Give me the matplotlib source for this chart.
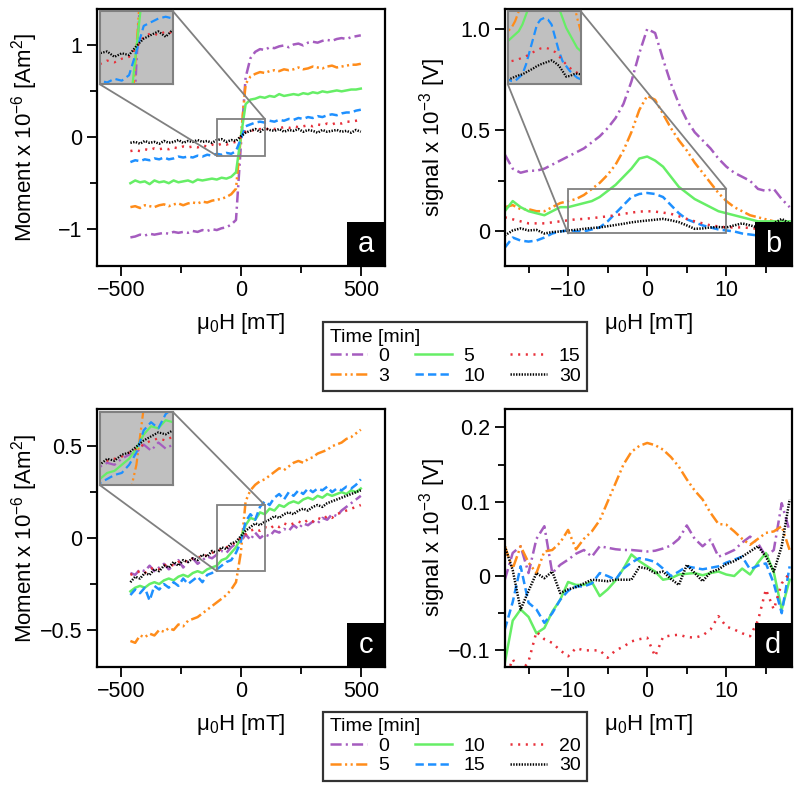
import matplotlib.pyplot as plt
from matplotlib.patches import Rectangle, ConnectionPatch
from matplotlib.lines import Line2D

plt.rcParams['font.family'] = ['Liberation Sans', 'DejaVu Sans']
plt.rcParams['mathtext.fontset'] = 'custom'
plt.rcParams['mathtext.rm'] = 'Liberation Sans'
plt.rcParams['mathtext.it'] = 'Liberation Sans:italic'
plt.rcParams['lines.scale_dashes'] = False

# Dados

# campo (mT) para os paineis a e c
field_ac = [-460, -440, -420, -400, -380, -360, -340, -320, -300, -280,
            -260, -240, -220, -200, -180, -160, -140, -120, -100, -80,
            -60, -40, -20, 0, 20, 40, 60, 80, 100, 120,
            140, 160, 180, 200, 220, 240, 260, 280, 300, 320,
            340, 360, 380, 400, 420, 440, 460, 480, 500]

# campo (mT) para os paineis b e d
field_bd = [-18, -17, -16, -15, -14, -13, -12, -11, -10, -9,
            -8, -7, -6, -5, -4, -3, -2, -1, 0, 1,
            2, 3, 4, 5, 6, 7, 8, 9, 10, 11,
            12, 13, 14, 15, 16, 17, 18]

times_top = ['0', '3', '5', '10', '15', '30']
times_bottom = ['0', '5', '10', '15', '20', '30']

# painel a: momento (x 1e-6 Am2)
mom_a_0 = [-1.09, -1.08, -1.06, -1.07, -1.05, -1.06, -1.05, -1.04, -1.05, -1.03,
           -1.04, -1.03, -1.04, -1.02, -1.03, -1.01, -1.02, -1.00, -1.01, -0.99,
           -0.98, -0.95, -0.90, -0.10, 0.65, 0.86, 0.93, 0.96, 0.95, 0.98,
           0.97, 0.99, 1.00, 0.98, 1.01, 1.02, 1.00, 1.03, 1.04, 1.03,
           1.05, 1.06, 1.05, 1.07, 1.08, 1.07, 1.09, 1.10, 1.11]
mom_a_3 = [-0.76, -0.75, -0.77, -0.74, -0.75, -0.76, -0.74, -0.73, -0.75, -0.73,
           -0.72, -0.74, -0.72, -0.71, -0.72, -0.70, -0.71, -0.69, -0.68, -0.67,
           -0.65, -0.62, -0.56, 0.00, 0.58, 0.66, 0.69, 0.71, 0.70, 0.72,
           0.73, 0.72, 0.74, 0.73, 0.74, 0.76, 0.74, 0.75, 0.77, 0.76,
           0.75, 0.77, 0.78, 0.76, 0.77, 0.78, 0.79, 0.79, 0.80]
mom_a_5 = [-0.50, -0.47, -0.49, -0.48, -0.51, -0.47, -0.49, -0.48, -0.50, -0.47,
           -0.49, -0.48, -0.47, -0.49, -0.46, -0.47, -0.46, -0.45, -0.46, -0.44,
           -0.45, -0.43, -0.38, 0.00, 0.36, 0.41, 0.42, 0.44, 0.43, 0.45,
           0.44, 0.47, 0.45, 0.46, 0.47, 0.46, 0.48, 0.47, 0.49, 0.48,
           0.50, 0.49, 0.50, 0.51, 0.50, 0.51, 0.52, 0.52, 0.53]
mom_a_10 = [-0.27, -0.25, -0.26, -0.24, -0.25, -0.23, -0.24, -0.22, -0.24, -0.23,
            -0.21, -0.22, -0.21, -0.22, -0.20, -0.21, -0.19, -0.20, -0.18, -0.19,
            -0.17, -0.18, -0.15, -0.02, 0.12, 0.14, 0.16, 0.17, 0.16, 0.18,
            0.17, 0.19, 0.18, 0.20, 0.19, 0.21, 0.20, 0.22, 0.21, 0.23,
            0.22, 0.24, 0.25, 0.24, 0.26, 0.27, 0.27, 0.29, 0.30]
mom_a_15 = [-0.15, -0.14, -0.15, -0.13, -0.14, -0.12, -0.13, -0.12, -0.13, -0.11,
            -0.12, -0.10, -0.11, -0.10, -0.11, -0.09, -0.10, -0.08, -0.09, -0.07,
            -0.08, -0.06, -0.05, 0.00, 0.06, 0.08, 0.07, 0.09, 0.08, 0.10,
            0.09, 0.10, 0.11, 0.10, 0.12, 0.11, 0.12, 0.13, 0.12, 0.14,
            0.13, 0.15, 0.14, 0.16, 0.15, 0.17, 0.17, 0.18, 0.19]
mom_a_30 = [-0.06, -0.05, -0.07, -0.04, -0.06, -0.05, -0.07, -0.04, -0.06, -0.05,
            -0.03, -0.06, -0.04, -0.05, -0.03, -0.05, -0.04, -0.06, -0.03, -0.02,
            -0.05, -0.03, -0.04, 0.01, 0.05, 0.07, 0.09, 0.06, 0.10, 0.08,
            0.07, 0.09, 0.06, 0.08, 0.07, 0.09, 0.06, 0.08, 0.07, 0.05,
            0.08, 0.06, 0.07, 0.08, 0.06, 0.07, 0.05, 0.08, 0.06]

# painel b: sinal (x 1e-3 V)
sig_b_0 = [0.38, 0.31, 0.29, 0.30, 0.30, 0.31, 0.33, 0.35, 0.37, 0.39,
           0.41, 0.44, 0.47, 0.51, 0.56, 0.63, 0.74, 0.88, 1.00, 0.98,
           0.85, 0.73, 0.63, 0.55, 0.49, 0.45, 0.41, 0.36, 0.32, 0.29,
           0.27, 0.25, 0.21, 0.20, 0.21, 0.16, 0.12]
sig_b_3 = [0.12, 0.13, 0.11, 0.11, 0.10, 0.10, 0.12, 0.14, 0.15, 0.16,
           0.18, 0.21, 0.24, 0.28, 0.33, 0.40, 0.49, 0.60, 0.67, 0.65,
           0.58, 0.51, 0.45, 0.40, 0.34, 0.29, 0.24, 0.19, 0.15, 0.12,
           0.10, 0.08, 0.07, 0.06, 0.05, 0.05, 0.04]
sig_b_5 = [0.10, 0.15, 0.12, 0.10, 0.09, 0.08, 0.10, 0.12, 0.12, 0.13,
           0.14, 0.15, 0.17, 0.20, 0.23, 0.27, 0.31, 0.36, 0.37, 0.35,
           0.32, 0.27, 0.22, 0.19, 0.16, 0.14, 0.12, 0.10, 0.09, 0.08,
           0.07, 0.06, 0.05, 0.05, 0.05, 0.05, 0.05]
sig_b_10 = [-0.08, -0.03, -0.045, -0.05, -0.045, -0.03, -0.01, 0.0, 0.005, 0.0,
            0.0, 0.01, 0.02, 0.05, 0.09, 0.13, 0.17, 0.185, 0.19, 0.185,
            0.17, 0.13, 0.09, 0.06, 0.045, 0.03, 0.02, 0.01, 0.005, 0.0,
            -0.01, -0.015, -0.02, -0.02, -0.01, -0.005, 0.0]
sig_b_15 = [0.07, 0.06, 0.05, 0.04, 0.04, 0.04, 0.045, 0.05, 0.055, 0.06,
            0.062, 0.066, 0.07, 0.075, 0.08, 0.087, 0.093, 0.098, 0.10, 0.098,
            0.093, 0.087, 0.075, 0.062, 0.05, 0.04, 0.03, 0.025, 0.02, 0.02,
            0.02, 0.017, 0.013, 0.012, 0.01, 0.01, 0.01]
sig_b_30 = [-0.02, 0.005, 0.015, 0.005, 0.008, -0.01, -0.003, 0.0, 0.005, 0.008,
            0.013, 0.017, 0.02, 0.026, 0.032, 0.038, 0.045, 0.05, 0.054, 0.058,
            0.062, 0.055, 0.046, 0.03, 0.013, 0.015, 0.02, 0.022, 0.02, 0.03,
            0.04, 0.03, 0.02, 0.03, 0.04, 0.062, 0.04]

# painel c: momento (x 1e-6 Am2)
mom_c_0 = [-0.19, -0.20, -0.17, -0.18, -0.15, -0.18, -0.16, -0.14, -0.17, -0.15,
           -0.12, -0.16, -0.13, -0.11, -0.14, -0.12, -0.10, -0.11, -0.09, -0.07,
           -0.08, -0.05, -0.03, -0.02, 0.02, -0.01, 0.03, 0.00, 0.02, 0.01,
           0.04, 0.03, 0.05, 0.04, 0.07, 0.05, 0.08, 0.07, 0.09, 0.08,
           0.11, 0.10, 0.13, 0.12, 0.15, 0.17, 0.19, 0.21, 0.23]
mom_c_5 = [-0.56, -0.57, -0.53, -0.54, -0.52, -0.53, -0.50, -0.51, -0.49, -0.50,
           -0.47, -0.48, -0.45, -0.44, -0.43, -0.41, -0.39, -0.37, -0.35, -0.33,
           -0.31, -0.28, -0.24, -0.08, 0.20, 0.26, 0.29, 0.31, 0.32, 0.34,
           0.36, 0.38, 0.37, 0.39, 0.41, 0.42, 0.41, 0.43, 0.44, 0.46,
           0.47, 0.48, 0.50, 0.51, 0.52, 0.54, 0.55, 0.57, 0.59]
mom_c_10 = [-0.29, -0.27, -0.26, -0.27, -0.25, -0.24, -0.25, -0.23, -0.22, -0.23,
            -0.21, -0.20, -0.21, -0.19, -0.18, -0.19, -0.17, -0.16, -0.15, -0.12,
            -0.11, -0.08, -0.05, 0.00, 0.07, 0.11, 0.10, 0.14, 0.13, 0.16,
            0.15, 0.18, 0.17, 0.19, 0.20, 0.19, 0.21, 0.22, 0.21, 0.23,
            0.22, 0.24, 0.23, 0.24, 0.25, 0.24, 0.26, 0.25, 0.27]
mom_c_15 = [-0.31, -0.28, -0.30, -0.27, -0.34, -0.26, -0.28, -0.25, -0.27, -0.24,
            -0.26, -0.22, -0.25, -0.23, -0.21, -0.24, -0.20, -0.19, -0.17, -0.15,
            -0.13, -0.12, -0.08, -0.02, 0.09, 0.13, 0.10, 0.17, 0.20, 0.18,
            0.22, 0.24, 0.21, 0.25, 0.23, 0.26, 0.24, 0.27, 0.25, 0.27,
            0.26, 0.28, 0.25, 0.27, 0.26, 0.28, 0.27, 0.29, 0.32]
mom_c_20 = [-0.20, -0.19, -0.18, -0.19, -0.17, -0.16, -0.17, -0.15, -0.14, -0.15,
            -0.13, -0.12, -0.13, -0.11, -0.10, -0.11, -0.09, -0.08, -0.07, -0.06,
            -0.05, -0.04, -0.02, 0.00, 0.02, 0.04, 0.05, 0.04, 0.06, 0.05,
            0.07, 0.06, 0.08, 0.07, 0.08, 0.09, 0.08, 0.10, 0.09, 0.11,
            0.10, 0.12, 0.11, 0.13, 0.14, 0.15, 0.16, 0.17, 0.18]
mom_c_30 = [-0.24, -0.21, -0.22, -0.19, -0.20, -0.17, -0.18, -0.15, -0.16, -0.13,
            -0.15, -0.12, -0.13, -0.11, -0.12, -0.09, -0.10, -0.07, -0.08, -0.05,
            -0.06, -0.03, -0.02, 0.01, 0.04, 0.06, 0.08, 0.07, 0.09, 0.10,
            0.12, 0.11, 0.13, 0.14, 0.13, 0.15, 0.16, 0.15, 0.17, 0.18,
            0.17, 0.19, 0.20, 0.21, 0.22, 0.23, 0.24, 0.25, 0.26]

# painel d: sinal (x 1e-3 V)
sig_d_0 = [-0.005, 0.031, 0.04, 0.004, 0.05, 0.067, 0.004, 0.015, 0.022, 0.03,
           0.035, 0.026, 0.04, 0.038, 0.036, 0.035, 0.035, 0.034, 0.033, 0.034,
           0.037, 0.041, 0.05, 0.068, 0.05, 0.04, 0.049, 0.026, 0.03, 0.035,
           0.045, 0.053, 0.044, 0.026, 0.035, 0.098, 0.06]
sig_d_5 = [0.04, 0.01, 0.04, 0.018, 0.004, 0.033, 0.035, 0.045, 0.062, 0.036,
           0.05, 0.06, 0.075, 0.10, 0.125, 0.15, 0.167, 0.175, 0.179, 0.176,
           0.17, 0.16, 0.147, 0.13, 0.115, 0.103, 0.085, 0.07, 0.069, 0.06,
           0.05, 0.042, 0.05, 0.058, 0.06, 0.067, 0.035]
sig_d_10 = [-0.117, -0.06, -0.045, -0.055, -0.077, -0.07, -0.048, -0.032, -0.008, -0.012,
            -0.012, -0.008, -0.027, -0.018, -0.006, 0.01, 0.029, 0.02, 0.013, 0.006,
            -0.005, -0.003, 0.002, 0.003, 0.004, 0.001, 0.004, 0.006, 0.002, 0.0,
            0.01, 0.002, 0.018, 0.031, 0.005, -0.045, -0.005]
sig_d_15 = [-0.072, -0.035, 0.013, -0.036, -0.045, -0.063, -0.05, -0.032, -0.02, -0.014,
            -0.014, -0.01, 0.004, 0.0, -0.005, 0.01, 0.018, 0.024, 0.022, 0.019,
            0.01, 0.0, 0.006, 0.013, 0.011, 0.009, 0.011, 0.013, 0.018, 0.022,
            0.026, 0.009, 0.014, 0.017, -0.01, -0.05, 0.013]
sig_d_20 = [-0.14, -0.112, -0.13, -0.115, -0.075, -0.085, -0.09, -0.1, -0.108, -0.097,
            -0.1, -0.1, -0.1, -0.11, -0.1, -0.095, -0.088, -0.085, -0.083, -0.108,
            -0.082, -0.08, -0.079, -0.082, -0.083, -0.08, -0.072, -0.054, -0.068, -0.072,
            -0.077, -0.081, -0.06, -0.018, -0.045, -0.01, 0.004]
sig_d_30 = [0.04, 0.008, -0.045, -0.02, 0.004, -0.003, 0.006, -0.023, -0.018, -0.015,
            -0.01, -0.005, -0.006, -0.007, -0.005, -0.005, -0.005, 0.012, 0.01, 0.004,
            0.006, -0.004, -0.012, 0.015, 0.004, -0.007, 0.005, 0.009, 0.016, 0.02,
            0.026, 0.033, 0.04, 0.026, 0.006, 0.04, 0.103]

# Estilos das curvas (mesma ordem das series)
colors = ['#a55cbf', '#ff8c1a', '#66ee66', '#1e90ff', '#e8303a', '#000000']
styles = [(0, (8, 3, 1.5, 3)), (0, (8, 2.5, 1.5, 2.5, 1.5, 2.5)), '-',
          (0, (6, 3)), (0, (1.5, 4)), (0, (1, 1))]
LW = 1.8
GRAY = '#808080'


def draw_lines(ax, x, series, lw):
    for y, c, ls in zip(series, colors, styles):
        ax.plot(x, y, color=c, linestyle=ls, linewidth=lw, dash_capstyle='butt')


def panel(ax, x, series, xlim, ylim, xt, xtm, xtl, yt, ytm, ytl, ylabel, letter, zoom=None):
    draw_lines(ax, x, series, LW)
    ax.set_xlim(xlim)
    ax.set_ylim(ylim)
    ax.set_xticks(xt, xtl)
    ax.set_xticks(xtm, minor=True)
    ax.set_yticks(yt, ytl)
    ax.set_yticks(ytm, minor=True)
    ax.tick_params(which='major', direction='out', length=7, width=1.3, labelsize=15.5)
    ax.tick_params(which='minor', direction='out', length=5, width=1.3)
    for s in ax.spines.values():
        s.set_linewidth(1.6)
    ax.set_xlabel('μ$_0$H [mT]', fontsize=16, labelpad=7)
    ax.set_ylabel(ylabel, fontsize=16)
    ax.yaxis.set_label_coords(-0.197, 0.5)

    # caixa preta com a letra
    bw, bh = 0.13, 0.17
    ax.add_patch(Rectangle((1 - bw, 0), bw, bh, transform=ax.transAxes,
                           facecolor='black', edgecolor='none', zorder=20))
    ax.text(1 - bw / 2, bh / 2, letter, transform=ax.transAxes, color='white',
            fontsize=21, ha='center', va='center', zorder=21)

    if zoom is None:
        return
    x0, x1, y0, y1 = zoom
    ins = ax.inset_axes([0.0105, 0.706, 0.254, 0.284])
    draw_lines(ins, x, series, 1.6)
    ins.set_xlim(x0, x1)
    ins.set_ylim(y0, y1)
    ins.set_xticks([])
    ins.set_yticks([])
    ins.set_facecolor('#c0c0c0')
    for s in ins.spines.values():
        s.set_color(GRAY)
        s.set_linewidth(1.5)
    ax.add_patch(Rectangle((x0, y0), x1 - x0, y1 - y0, fill=False,
                           edgecolor=GRAY, linewidth=1.3, zorder=6))
    for a, b in [((1, 1), (x1, y1)), ((0, 0), (x0, y0))]:
        con = ConnectionPatch(xyA=a, coordsA=ins.transAxes, xyB=b, coordsB=ax.transData,
                              color=GRAY, linewidth=1.3, zorder=6)
        fig.add_artist(con)


fig = plt.figure(figsize=(8, 7.89), dpi=100)
ax_a = fig.add_axes([0.121, 0.663, 0.36, 0.326])
ax_b = fig.add_axes([0.631, 0.663, 0.359, 0.326])
ax_c = fig.add_axes([0.121, 0.155, 0.36, 0.326])
ax_d = fig.add_axes([0.631, 0.155, 0.359, 0.326])

lab_mom = 'Moment x 10$^{-6}$ [Am$^{2}$]'
lab_sig = 'signal x 10$^{-3}$ [V]'

panel(ax_a, field_ac, [mom_a_0, mom_a_3, mom_a_5, mom_a_10, mom_a_15, mom_a_30],
      (-600, 600), (-1.4, 1.4), [-500, 0, 500], [-250, 250], ['\u2212500', '0', '500'],
      [-1, 0, 1], [-0.5, 0.5], ['\u22121', '0', '1'], lab_mom, 'a',
      zoom=(-100, 100, -0.2, 0.2))
panel(ax_b, field_bd, [sig_b_0, sig_b_3, sig_b_5, sig_b_10, sig_b_15, sig_b_30],
      (-18, 18.3), (-0.17, 1.1), [-10, 0, 10], [-15, -5, 5, 15], ['\u221210', '0', '10'],
      [0, 0.5, 1.0], [0.25], ['0', '0.5', '1.0'], lab_sig, 'b',
      zoom=(-10, 10, -0.01, 0.21))
panel(ax_c, field_ac, [mom_c_0, mom_c_5, mom_c_10, mom_c_15, mom_c_20, mom_c_30],
      (-600, 600), (-0.7, 0.7), [-500, 0, 500], [-250, 250], ['\u2212500', '0', '500'],
      [-0.5, 0, 0.5], [-0.25, 0.25], ['\u22120.5', '0', '0.5'], lab_mom, 'c',
      zoom=(-100, 100, -0.18, 0.18))
panel(ax_d, field_bd, [sig_d_0, sig_d_5, sig_d_10, sig_d_15, sig_d_20, sig_d_30],
      (-18, 18.3), (-0.122, 0.224), [-10, 0, 10], [-15, -5, 5, 15], ['\u221210', '0', '10'],
      [-0.1, 0, 0.1, 0.2], [-0.05, 0.05, 0.15], ['\u22120.1', '0', '0.1', '0.2'], lab_sig, 'd')


# Legendas
def legend(labels, center):
    handles = [Line2D([], [], color=c, linestyle=ls, linewidth=LW, dash_capstyle='butt')
               for c, ls in zip(colors, styles)]
    leg = fig.legend(handles, labels, loc='center', bbox_to_anchor=center, ncol=3,
                     title='Time [min]', fontsize=14, title_fontsize=14,
                     frameon=True, fancybox=False, edgecolor='black',
                     handlelength=1.9, handletextpad=0.6, columnspacing=1.3,
                     labelspacing=0.1, borderpad=0.35, alignment='left')
    leg.get_frame().set_linewidth(1.6)
    return leg


legend(times_top, (0.569, 0.548))
legend(times_bottom, (0.569, 0.054))

fig.savefig('out.png', dpi=100)
